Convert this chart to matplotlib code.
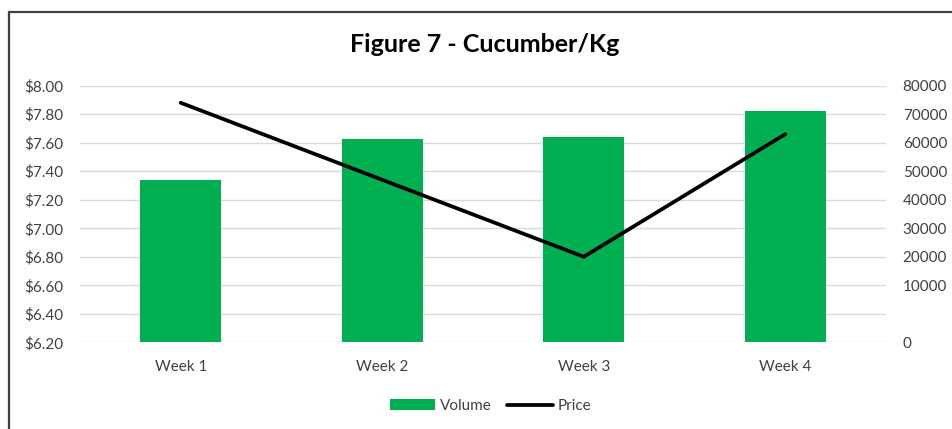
import matplotlib
matplotlib.use('Agg')
import matplotlib.pyplot as plt
import matplotlib.patches as mpatches
from matplotlib.ticker import FuncFormatter
import numpy as np

plt.rcParams['font.family'] = ['Lato', 'DejaVu Sans']

weeks = ['Week 1', 'Week 2', 'Week 3', 'Week 4']
volume = [46900, 61400, 62100, 71000]
price = [7.88, 7.34, 6.80, 7.66]

vol_min, vol_max = -10000, 80000
price_ticks = np.arange(6.2, 8.001, 0.2)
vol_ticks = [-10000] + list(range(10000, 80001, 10000))

green = '#00B050'
txt = '#404040'

fig = plt.figure(figsize=(9.52, 4.29), dpi=100)
ax = fig.add_axes([80/952, 1 - 342.3/429, 806/952, 256.6/429])
x = np.arange(len(weeks))

# volume bars (right scale) underneath, grid follows the price steps
ax.bar(x, np.array(volume) - vol_min, bottom=vol_min, width=0.4, color=green, label='Volume', zorder=2)
ax.set_ylim(vol_min, vol_max)
ax.set_xlim(-0.5, len(weeks) - 0.5)
ax.set_yticks(vol_ticks)
ax.set_yticks(range(vol_min, vol_max + 1, 10000), minor=True)
ax.yaxis.set_major_formatter(FuncFormatter(lambda v, p: f'{max(v, 0):.0f}'))
ax.grid(axis='y', which='both', color='#d9d9d9', lw=1, zorder=0)
ax.set_xticks(x)
ax.set_xticklabels(weeks)

# price line on top, left scale
ax2 = ax.twinx()
ax2.plot(x, price, color='black', lw=2.7, label='Price', solid_capstyle='round')
ax2.set_ylim(6.2, 8.0)
ax2.set_yticks(price_ticks)
ax2.yaxis.set_major_formatter(FuncFormatter(lambda v, p: f'${v:.2f}'))

# swap sides: price labels left, volume labels right
ax.yaxis.tick_right()
ax2.yaxis.tick_left()

for a in (ax, ax2):
    for s in a.spines.values():
        s.set_visible(False)
    a.tick_params(axis='both', which='both', length=0, pad=13, labelsize=11, labelcolor=txt)
ax.tick_params(axis='y', pad=12)
ax2.tick_params(axis='y', pad=12)

fig.text(0.509, 1 - 45/429, 'Figure 7 - Cucumber/Kg', ha='center', va='center',
         fontsize=18, fontweight='bold', color='black')

h1, l1 = ax.get_legend_handles_labels()
h2, l2 = ax2.get_legend_handles_labels()
fig.legend(h1 + h2, l1 + l2, loc='center', bbox_to_anchor=(0.515, 1 - 406/429), ncol=2,
           frameon=False, fontsize=11, handlelength=3, handletextpad=0.3, columnspacing=1.0,
           labelcolor=txt)

fig.patches.append(mpatches.Rectangle((9/952, -0.1), 2, 1 - 12/429 + 0.1, transform=fig.transFigure,
                                      fill=False, edgecolor='#404040', lw=1.6))

fig.savefig('out.png', dpi=100)
